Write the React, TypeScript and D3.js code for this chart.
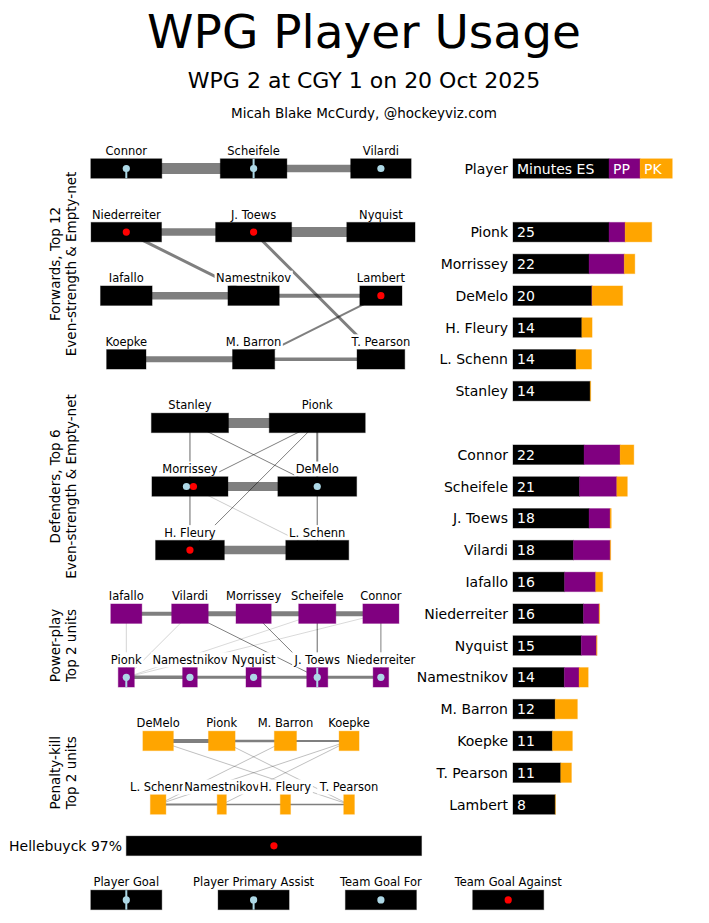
import { useEffect, useRef } from "react";
import * as d3 from "d3";

// minutes: even strength, power play, penalty kill
const defenders = ["Pionk", "Morrissey", "DeMelo", "H. Fleury", "L. Schenn", "Stanley"];
const defES = [17.3, 13.7, 14.2, 12.4, 11.35, 13.9];
const defPP = [2.9, 6.35, 0.05, 0, 0, 0];
const defPK = [4.8, 1.9, 5.5, 1.85, 2.8, 0.1];

const forwards = [
  "Connor", "Scheifele", "J. Toews", "Vilardi", "Iafallo", "Niederreiter",
  "Nyquist", "Namestnikov", "M. Barron", "Koepke", "T. Pearson", "Lambert",
];
const fwdES = [12.8, 12.0, 13.7, 10.9, 9.3, 12.7, 12.3, 9.25, 7.6, 7.1, 8.6, 7.6];
const fwdPP = [6.5, 6.7, 3.8, 6.6, 5.6, 2.8, 2.75, 2.65, 0, 0, 0, 0];
const fwdPK = [2.47, 1.9, 0.2, 0.1, 1.25, 0.1, 0.1, 1.65, 4.0, 3.6, 1.93, 0.05];

const goalie = "Hellebuyck";
const goalieSv = "97%";
const goalieES = 53.2;

const headerMinutes = [17.3, 5.6, 5.8];
const headerLabels = ["Minutes ES", "PP", "PK"];

// units as drawn, left to right
const fwdLines = [
  ["Connor", "Scheifele", "Vilardi"],
  ["Niederreiter", "J. Toews", "Nyquist"],
  ["Iafallo", "Namestnikov", "Lambert"],
  ["Koepke", "M. Barron", "T. Pearson"],
];
const defPairs = [
  ["Stanley", "Pionk"],
  ["Morrissey", "DeMelo"],
  ["H. Fleury", "L. Schenn"],
];
const ppUnits = [
  ["Iafallo", "Vilardi", "Morrissey", "Scheifele", "Connor"],
  ["Pionk", "Namestnikov", "Nyquist", "J. Toews", "Niederreiter"],
];
const pkUnits = [
  ["DeMelo", "Pionk", "M. Barron", "Koepke"],
  ["L. Schenn", "Namestnikov", "H. Fleury", "T. Pearson"],
];

// shared minutes between pairs of players
const fwdLinks: [string, string, number][] = [
  ["Connor", "Scheifele", 11], ["Scheifele", "Vilardi", 7.7],
  ["Niederreiter", "J. Toews", 7.5], ["J. Toews", "Nyquist", 10],
  ["Iafallo", "Namestnikov", 7.5], ["Namestnikov", "Lambert", 4],
  ["Koepke", "M. Barron", 6], ["M. Barron", "T. Pearson", 3.5],
  ["Niederreiter", "Namestnikov", 3], ["J. Toews", "T. Pearson", 3],
  ["Lambert", "M. Barron", 2],
];
const defLinks: [string, string, number][] = [
  ["Stanley", "Pionk", 10], ["Morrissey", "DeMelo", 9], ["H. Fleury", "L. Schenn", 8.5],
  ["Stanley", "Morrissey", 1.2], ["Stanley", "DeMelo", 1], ["Pionk", "Morrissey", 1],
  ["Pionk", "H. Fleury", 1], ["Pionk", "DeMelo", 2], ["Morrissey", "H. Fleury", 1.2],
  ["Morrissey", "L. Schenn", 0.4], ["DeMelo", "L. Schenn", 1.2],
];
const ppLinks: [string, string, number][] = [
  ["Iafallo", "Vilardi", 4], ["Vilardi", "Morrissey", 5], ["Morrissey", "Scheifele", 5],
  ["Scheifele", "Connor", 5],
  ["Pionk", "Namestnikov", 3.5], ["Namestnikov", "Nyquist", 3], ["Nyquist", "J. Toews", 3],
  ["J. Toews", "Niederreiter", 3],
  ["Iafallo", "Pionk", 0.35], ["Vilardi", "Pionk", 0.35], ["Vilardi", "J. Toews", 1],
  ["Morrissey", "J. Toews", 1], ["Scheifele", "J. Toews", 1.2], ["Connor", "Niederreiter", 1],
  ["Scheifele", "Pionk", 0.3], ["Connor", "Pionk", 0.3],
];
const pkLinks: [string, string, number][] = [
  ["DeMelo", "Pionk", 4], ["Pionk", "M. Barron", 2.5], ["M. Barron", "Koepke", 2],
  ["L. Schenn", "Namestnikov", 2], ["Namestnikov", "H. Fleury", 1.3], ["H. Fleury", "T. Pearson", 1.3],
  ["DeMelo", "T. Pearson", 0.5], ["Pionk", "T. Pearson", 0.5], ["M. Barron", "L. Schenn", 0.5],
  ["Koepke", "L. Schenn", 0.5], ["Koepke", "Namestnikov", 0.5],
];

// G goal, A primary assist, F team goal for, X goal against
const esEvents: [string, string][] = [
  ["Connor", "A"], ["Scheifele", "G"], ["Vilardi", "F"], ["Morrissey", "F"], ["DeMelo", "F"],
  ["Niederreiter", "X"], ["J. Toews", "X"], ["Lambert", "X"], ["Morrissey", "X"], ["H. Fleury", "X"],
];
const ppEvents: [string, string][] = [
  ["J. Toews", "G"], ["Pionk", "A"], ["Namestnikov", "F"], ["Nyquist", "F"], ["Niederreiter", "F"],
];
const legendItems = ["Player Goal", "Player Primary Assist", "Team Goal For", "Team Goal Against"];
const legendKinds = ["G", "A", "F", "X"];
const legendMinutes = 12.8;

const BLACK = "#000";
const PURPLE = "#800080";
const ORANGE = "#ffa500";
const BLUE = "#add8e6";
const RED = "#ff0000";
const FONT = "DejaVu Sans";
const BOX_H = 19.5;

export default function App() {
  const ref = useRef<SVGSVGElement>(null);

  useEffect(() => {
    document.body.style.margin = "0";
    const svg = d3.select(ref.current!);
    svg.selectAll("*").remove();

    const y = d3.scaleLinear().domain([0, 20]).range([168.5, 804.5]);
    const x = d3.scaleLinear().domain([-2, 2]).range([126.3, 380.9]);
    const w = d3.scaleLinear().domain([0, 10]).range([0, 55.5]);

    const mins = new Map<string, { es: number; pp: number; pk: number }>();
    defenders.forEach((n, i) => mins.set(n, { es: defES[i], pp: defPP[i], pk: defPK[i] }));
    forwards.forEach((n, i) => mins.set(n, { es: fwdES[i], pp: fwdPP[i], pk: fwdPK[i] }));

    // titles
    svg.append("text").attr("x", 364).attr("y", 48).attr("text-anchor", "middle")
      .attr("font-size", 47).text("WPG Player Usage");
    svg.append("text").attr("x", 364).attr("y", 87.5).attr("text-anchor", "middle")
      .attr("font-size", 22).text("WPG 2 at CGY 1 on 20 Oct 2025");
    svg.append("text").attr("x", 364).attr("y", 118).attr("text-anchor", "middle")
      .attr("font-size", 13.5).text("Micah Blake McCurdy, @hockeyviz.com");

    const box = (g: any, cx: number, cy: number, wpx: number, color: string, left = false) =>
      g.append("rect")
        .attr("x", left ? cx : cx - wpx / 2).attr("y", cy - BOX_H / 2)
        .attr("width", wpx).attr("height", BOX_H)
        .attr("fill", color).attr("stroke", color)
        .attr("stroke-opacity", 0.35).attr("stroke-width", 1);

    const label = (g: any, cx: number, cy: number, txt: string) => {
      const lg = g.append("g");
      const rect = lg.append("rect").attr("fill", "#fff");
      const t = lg.append("text").attr("x", cx).attr("y", cy - 13.5)
        .attr("text-anchor", "middle").attr("font-size", 11.5).text(txt);
      const bb = (t.node() as SVGTextElement).getBBox();
      rect.attr("x", bb.x - 1.5).attr("y", bb.y - 0.5)
        .attr("width", bb.width + 3).attr("height", bb.height + 1);
    };

    const marks = (g: any, cx: number, cy: number, kinds: string[]) => {
      kinds.forEach((k, i) => {
        const dx = cx + (i - (kinds.length - 1) / 2) * 7;
        if (k === "G" || k === "A") {
          g.append("line").attr("x1", dx).attr("x2", dx)
            .attr("y1", k === "G" ? cy - BOX_H / 2 : cy).attr("y2", cy + BOX_H / 2)
            .attr("stroke", BLUE).attr("stroke-width", 2);
        }
        g.append("circle").attr("cx", dx).attr("cy", cy).attr("r", 3.6)
          .attr("fill", k === "X" ? RED : BLUE);
      });
    };

    const section = (
      rows: string[][], rowIdx: number[], cols: number[][],
      minute: (n: string) => number, color: string,
      links: [string, string, number][], events: [string, string][],
    ) => {
      const g = svg.append("g");
      const pos = new Map<string, [number, number]>();
      rows.forEach((r, ri) => r.forEach((n, ci) => pos.set(n, [x(cols[ri][ci]), y(rowIdx[ri])])));
      const lg = g.append("g");
      links.forEach(([a, b, m]) => {
        const pa = pos.get(a)!, pb = pos.get(b)!;
        lg.append("line").attr("x1", pa[0]).attr("y1", pa[1]).attr("x2", pb[0]).attr("y2", pb[1])
          .attr("stroke", "#000").attr("stroke-opacity", 0.5).attr("stroke-width", m);
      });
      const tg = g.append("g");
      rows.forEach((r) => r.forEach((n) => label(tg, pos.get(n)![0], pos.get(n)![1], n)));
      const bg = g.append("g");
      rows.forEach((r) => r.forEach((n) => {
        const [cx, cy] = pos.get(n)!;
        box(bg, cx, cy, w(minute(n)), color);
        marks(bg, cx, cy, events.filter((e) => e[0] === n).map((e) => e[1]));
      }));
    };

    section(fwdLines, [0, 2, 4, 6], fwdLines.map(() => [-2, 0, 2]),
      (n) => mins.get(n)!.es, BLACK, fwdLinks, esEvents);
    section(defPairs, [8, 10, 12], defPairs.map(() => [-1, 1]),
      (n) => mins.get(n)!.es, BLACK, defLinks, esEvents);
    section(ppUnits, [14, 16], ppUnits.map(() => [-2, -1, 0, 1, 2]),
      (n) => mins.get(n)!.pp, PURPLE, ppLinks, ppEvents);
    section(pkUnits, [18, 20], pkUnits.map(() => [-1.5, -0.5, 0.5, 1.5]),
      (n) => mins.get(n)!.pk, ORANGE, pkLinks, []);

    // section titles
    const titles: [string, string, number][] = [
      ["Forwards, Top 12", "Even-strength & Empty-net", 3],
      ["Defenders, Top 6", "Even-strength & Empty-net", 10],
      ["Power-play", "Top 2 units", 15],
      ["Penalty-kill", "Top 2 units", 19],
    ];
    titles.forEach(([a, b, r]) => {
      [a, b].forEach((t, i) => {
        svg.append("text").attr("transform", `translate(${59.5 + i * 16},${y(r)}) rotate(-90)`)
          .attr("text-anchor", "middle").attr("font-size", 13.5).text(t);
      });
    });

    // goalie
    const gy = y(21.3);
    const gg = svg.append("g");
    box(gg, x(-2), gy, w(goalieES), BLACK, true);
    marks(gg, x(-2) + w(goalieES) / 2, gy, ["X"]);
    gg.append("text").attr("x", 122).attr("y", gy + 5).attr("text-anchor", "end")
      .attr("font-size", 14).text(`${goalie} ${goalieSv}`);

    // legend
    const ly = y(23);
    const leg = svg.append("g");
    legendItems.forEach((t, i) => {
      const cx = x(-2 + i * 2);
      label(leg, cx, ly, t);
      box(leg, cx, ly, w(legendMinutes), BLACK);
      marks(leg, cx, ly, [legendKinds[i]]);
    });

    // right bar chart
    const x0 = 513;
    const rg = svg.append("g");
    const hy = y(0);
    rg.append("text").attr("x", 508).attr("y", hy + 5).attr("text-anchor", "end")
      .attr("font-size", 14).text("Player");
    let acc = 0;
    headerMinutes.forEach((m, i) => {
      box(rg, x0 + w(acc), hy, w(m), [BLACK, PURPLE, ORANGE][i], true);
      rg.append("text").attr("x", x0 + w(acc) + 4).attr("y", hy + 5)
        .attr("font-size", 14).attr("fill", "#fff").text(headerLabels[i]);
      acc += m;
    });

    const barRows = [
      ...defenders.map((n, i) => ({ n, row: 2 + i })),
      ...forwards.map((n, i) => ({ n, row: 9 + i })),
    ];
    barRows.forEach(({ n, row }) => {
      const m = mins.get(n)!;
      const cy = y(row);
      rg.append("text").attr("x", 508).attr("y", cy + 5).attr("text-anchor", "end")
        .attr("font-size", 14).text(n);
      const segs = [m.es, m.pp, m.pk];
      let s = 0;
      segs.forEach((v, i) => {
        if (v > 0) box(rg, x0 + w(s), cy, w(v), [BLACK, PURPLE, ORANGE][i], true);
        s += v;
      });
      rg.append("text").attr("x", x0 + 4).attr("y", cy + 5)
        .attr("font-size", 14).attr("fill", "#fff").text(Math.round(s));
    });
  }, []);

  return (
    <svg ref={ref} width={709} height={923} fontFamily={FONT}
      style={{ display: "block", background: "#fff" }} />
  );
}
